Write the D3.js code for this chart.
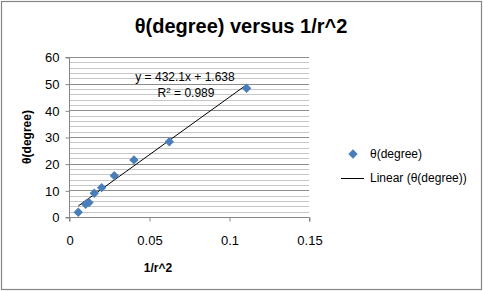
<!DOCTYPE html>
<html>
<head>
<script src="https://d3js.org/d3.v7.min.js"></script>
<style>
  body { margin: 0; background: #fff; }
  text { font-family: 'Liberation Sans', Arial, sans-serif; }
</style>
</head>
<body>
<script>
// data
const xValues = [0.0058, 0.0104, 0.0125, 0.0158, 0.0204, 0.0283, 0.0406, 0.0627, 0.111];
const yValues = [1.8, 4.8, 5.4, 8.9, 11.0, 15.5, 21.4, 28.2, 48.3];
const slope = 432.1;
const intercept = 1.638;
const xTicks = [0, 0.05, 0.1, 0.15];
const yTicks = [0, 10, 20, 30, 40, 50, 60];
const yMinor = d3.range(0, 61, 2);

const W = 483, H = 291;
const svg = d3.select('body').append('svg').attr('width', W).attr('height', H);

svg.append('rect').attr('x', 1.5).attr('y', 1.5).attr('width', W - 3).attr('height', H - 3)
    .attr('fill', '#fff').attr('stroke', '#868686').attr('stroke-width', 1.2);

const x = d3.scaleLinear().domain([0, 0.15]).range([69, 309]);
const y = d3.scaleLinear().domain([0, 60]).range([217, 57]);

// gridlines
svg.append('g').selectAll('line').data(yMinor.filter(v => v % 10 !== 0)).enter().append('line')
    .attr('x1', x(0)).attr('x2', x(0.15))
    .attr('y1', d => Math.round(y(d)) + 0.5).attr('y2', d => Math.round(y(d)) + 0.5)
    .attr('stroke', '#c6c6c6').attr('stroke-width', 1);
svg.append('g').selectAll('line').data(yTicks.filter(v => v > 0)).enter().append('line')
    .attr('x1', x(0)).attr('x2', x(0.15))
    .attr('y1', d => Math.round(y(d)) + 0.5).attr('y2', d => Math.round(y(d)) + 0.5)
    .attr('stroke', '#8c8c8c').attr('stroke-width', 1);

// axes
const yAxis = d3.axisLeft(y).tickValues(yTicks).tickSize(4).tickPadding(6).tickFormat(d3.format('d'));
const gy = svg.append('g').attr('transform', `translate(${x(0) + 0.5},0.5)`).call(yAxis);
const xAxis = d3.axisBottom(x).tickValues(xTicks).tickSize(4).tickPadding(14).tickFormat(d => d === 0 ? '0' : String(d));
const gx = svg.append('g').attr('transform', `translate(0.5,${y(0) + 0.5})`).call(xAxis);
[gx, gy].forEach(g => {
    g.select('.domain').attr('stroke', '#868686');
    g.selectAll('.tick line').attr('stroke', '#868686');
    g.selectAll('.tick text').attr('font-size', 13).attr('fill', '#000')
        .style('font-family', "'Liberation Sans', Arial, sans-serif");
});
gx.select('.domain').attr('d', `M${x(0)},4V0H${x(0.15)}V4`);
gy.select('.domain').attr('d', `M-4,${y(60)}H0V${y(0)}H-4`);

// trendline
const x0 = d3.min(xValues), x1 = d3.max(xValues);
svg.append('line')
    .attr('x1', x(x0)).attr('y1', y(slope * x0 + intercept))
    .attr('x2', x(x1)).attr('y2', y(slope * x1 + intercept))
    .attr('stroke', '#000').attr('stroke-width', 1);

// points
const diamond = d3.symbol().type(d3.symbolSquare).size(44);
svg.append('g').selectAll('path').data(xValues.map((v, i) => [v, yValues[i]])).enter().append('path')
    .attr('d', diamond)
    .attr('transform', d => `translate(${x(d[0])},${y(d[1])}) rotate(45)`)
    .attr('fill', '#4a7ebb');

// equation
svg.append('text').attr('x', 185).attr('y', 81).attr('text-anchor', 'middle')
    .attr('font-size', 12).text(`y = ${slope}x + ${intercept}`);
const r2 = svg.append('text').attr('x', 186).attr('y', 97).attr('text-anchor', 'middle').attr('font-size', 12);
r2.append('tspan').text('R');
r2.append('tspan').attr('dy', -4).attr('font-size', 8).text('2');
r2.append('tspan').attr('dy', 4).text(' = 0.989');

// title
svg.append('text').attr('x', 241).attr('y', 33).attr('text-anchor', 'middle')
    .attr('font-size', 20).attr('font-weight', 'bold').text('θ(degree) versus 1/r^2');

// axis titles
svg.append('text').attr('x', 158).attr('y', 272).attr('text-anchor', 'middle')
    .attr('font-size', 12).attr('font-weight', 'bold').text('1/r^2');
svg.append('text').attr('transform', 'translate(31,137) rotate(-90)').attr('text-anchor', 'middle')
    .attr('font-size', 12).attr('font-weight', 'bold').text('θ(degree)');

// legend
svg.append('path').attr('d', diamond).attr('transform', 'translate(353,154) rotate(45)').attr('fill', '#4a7ebb');
svg.append('text').attr('x', 370).attr('y', 158).attr('font-size', 12).text('θ(degree)');
svg.append('line').attr('x1', 341).attr('x2', 364).attr('y1', 178.5).attr('y2', 178.5).attr('stroke', '#000');
svg.append('text').attr('x', 370).attr('y', 182).attr('font-size', 12).text('Linear (θ(degree))');
</script>
</body>
</html>
